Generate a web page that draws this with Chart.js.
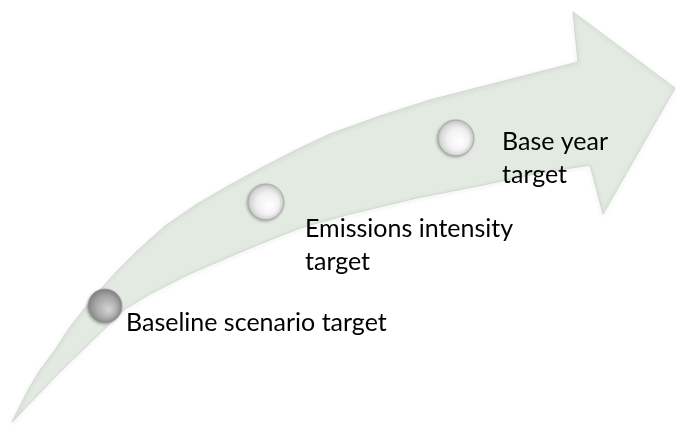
<!DOCTYPE html>
<html>
<head>
<meta charset="utf-8">
<script src="https://cdn.jsdelivr.net/npm/chart.js@4.4.1/dist/chart.umd.min.js"></script>
<style>
  html, body { margin: 0; padding: 0; background: #ffffff; }
  #grafico { display: block; }
</style>
</head>
<body>
<canvas id="grafico" width="676" height="425"></canvas>
<script>
// Etapas do diagrama (nomes e posição ao longo da seta)
const etapas = ['Baseline scenario target', 'Emissions intensity target', 'Base year target'];
const etapasX = [105, 266, 456];
const etapasY = [306, 202, 138];

// Contorno da seta: borda superior (da cauda até o pescoço)
const bordaSupX = [12, 20, 28, 40, 55, 70, 85, 100, 118, 137, 165, 197, 230, 263, 296, 330, 380, 430, 500, 578];
const bordaSupY = [422, 406, 390, 370, 350, 327, 308, 290, 270, 251, 226, 204, 185, 167, 150, 134, 116, 100, 82, 62];
// ponta da seta
const pontaX = [573, 675, 603, 590];
const pontaY = [12, 88, 214, 165];
// borda inferior (do pescoço de volta à cauda)
const bordaInfX = [540, 483, 417, 350, 300, 250, 187, 150, 125, 93, 60, 35, 12];
const bordaInfY = [173, 185, 198, 214, 228, 248, 275, 294, 309, 340, 372, 398, 422];

// quebra das linhas de texto de cada etapa
const linhasTexto = [['Baseline scenario target'], ['Emissions intensity', 'target'], ['Base year', 'target']];
const deslocTexto = [[21, 25], [39, 35], [46, 12]];
const tomBolinha = ['escuro', 'claro', 'claro'];

const contorno = [];
bordaSupX.forEach((x, i) => contorno.push({ x: x, y: bordaSupY[i] }));
pontaX.forEach((x, i) => contorno.push({ x: x, y: pontaY[i] }));
bordaInfX.forEach((x, i) => contorno.push({ x: x, y: bordaInfY[i] }));

const pontosEtapas = etapasX.map((x, i) => ({ x: x, y: etapasY[i] }));

function corBolinha(context) {
    const chart = context.chart;
    const escuro = tomBolinha[context.dataIndex] === 'escuro';
    if (context.type !== 'data' || !chart.scales.x) return escuro ? '#a9a9a9' : '#eeeeee';
    const px = chart.scales.x.getPixelForValue(context.parsed.x);
    const py = chart.scales.y.getPixelForValue(context.parsed.y);
    if (!isFinite(px) || !isFinite(py)) return escuro ? '#a9a9a9' : '#eeeeee';
    const g = chart.ctx.createRadialGradient(px + 4, py + 4, 1, px, py, 19);
    if (escuro) {
        g.addColorStop(0, '#d2d2d2');
        g.addColorStop(0.55, '#a9a9a9');
        g.addColorStop(1, '#7c7c7c');
    } else {
        g.addColorStop(0, '#ffffff');
        g.addColorStop(0.55, '#f1f1f1');
        g.addColorStop(0.85, '#d6d6d6');
        g.addColorStop(1, '#b9b9b9');
    }
    return g;
}

// sombra leve na seta e nas bolinhas
const sombras = {
    id: 'sombras',
    beforeDatasetDraw(chart, args) {
        const ctx = chart.ctx;
        ctx.save();
        if (args.index === 0) {
            ctx.shadowColor = 'rgba(0, 0, 0, 0.18)';
            ctx.shadowBlur = 4;
            ctx.shadowOffsetY = 1;
        } else {
            ctx.shadowColor = 'rgba(0, 0, 0, 0.25)';
            ctx.shadowBlur = 3;
            ctx.shadowOffsetX = -1;
            ctx.shadowOffsetY = 1;
        }
    },
    afterDatasetDraw(chart) {
        chart.ctx.restore();
    }
};

// textos das etapas
const rotulos = {
    id: 'rotulos',
    afterDatasetsDraw(chart) {
        const ctx = chart.ctx;
        const xs = chart.scales.x;
        const ys = chart.scales.y;
        ctx.save();
        ctx.fillStyle = '#000000';
        ctx.font = '25px Lato';
        ctx.textAlign = 'left';
        ctx.textBaseline = 'alphabetic';
        etapas.forEach((nome, i) => {
            const px = xs.getPixelForValue(etapasX[i]) + deslocTexto[i][0];
            const py = ys.getPixelForValue(etapasY[i]) + deslocTexto[i][1];
            linhasTexto[i].forEach((linha, k) => {
                ctx.fillText(linha, px, py + k * 33);
            });
        });
        ctx.restore();
    }
};

const ctx = document.getElementById('grafico').getContext('2d');
const chart = new Chart(ctx, {
    type: 'scatter',
    data: {
        datasets: [{
            label: 'seta',
            data: contorno.concat([contorno[0]]),
            showLine: true,
            fill: 'shape',
            tension: 0,
            backgroundColor: '#e2eae1',
            borderColor: '#d0d9cf',
            borderWidth: 1,
            pointRadius: 0,
            order: 2
        }, {
            label: 'etapas',
            data: pontosEtapas,
            showLine: false,
            pointRadius: [17, 18, 18],
            backgroundColor: corBolinha,
            borderColor: 'rgba(160, 160, 160, 0.7)',
            borderWidth: 1,
            order: 1
        }]
    },
    options: {
        responsive: false,
        animation: false,
        devicePixelRatio: 1,
        layout: { padding: 0, autoPadding: false },
        plugins: {
            legend: { display: false },
            tooltip: { enabled: false }
        },
        scales: {
            x: { type: 'linear', min: 0, max: 676, display: false },
            y: { type: 'linear', min: 0, max: 425, reverse: true, display: false }
        }
    },
    plugins: [sombras, rotulos]
});
</script>
</body>
</html>
